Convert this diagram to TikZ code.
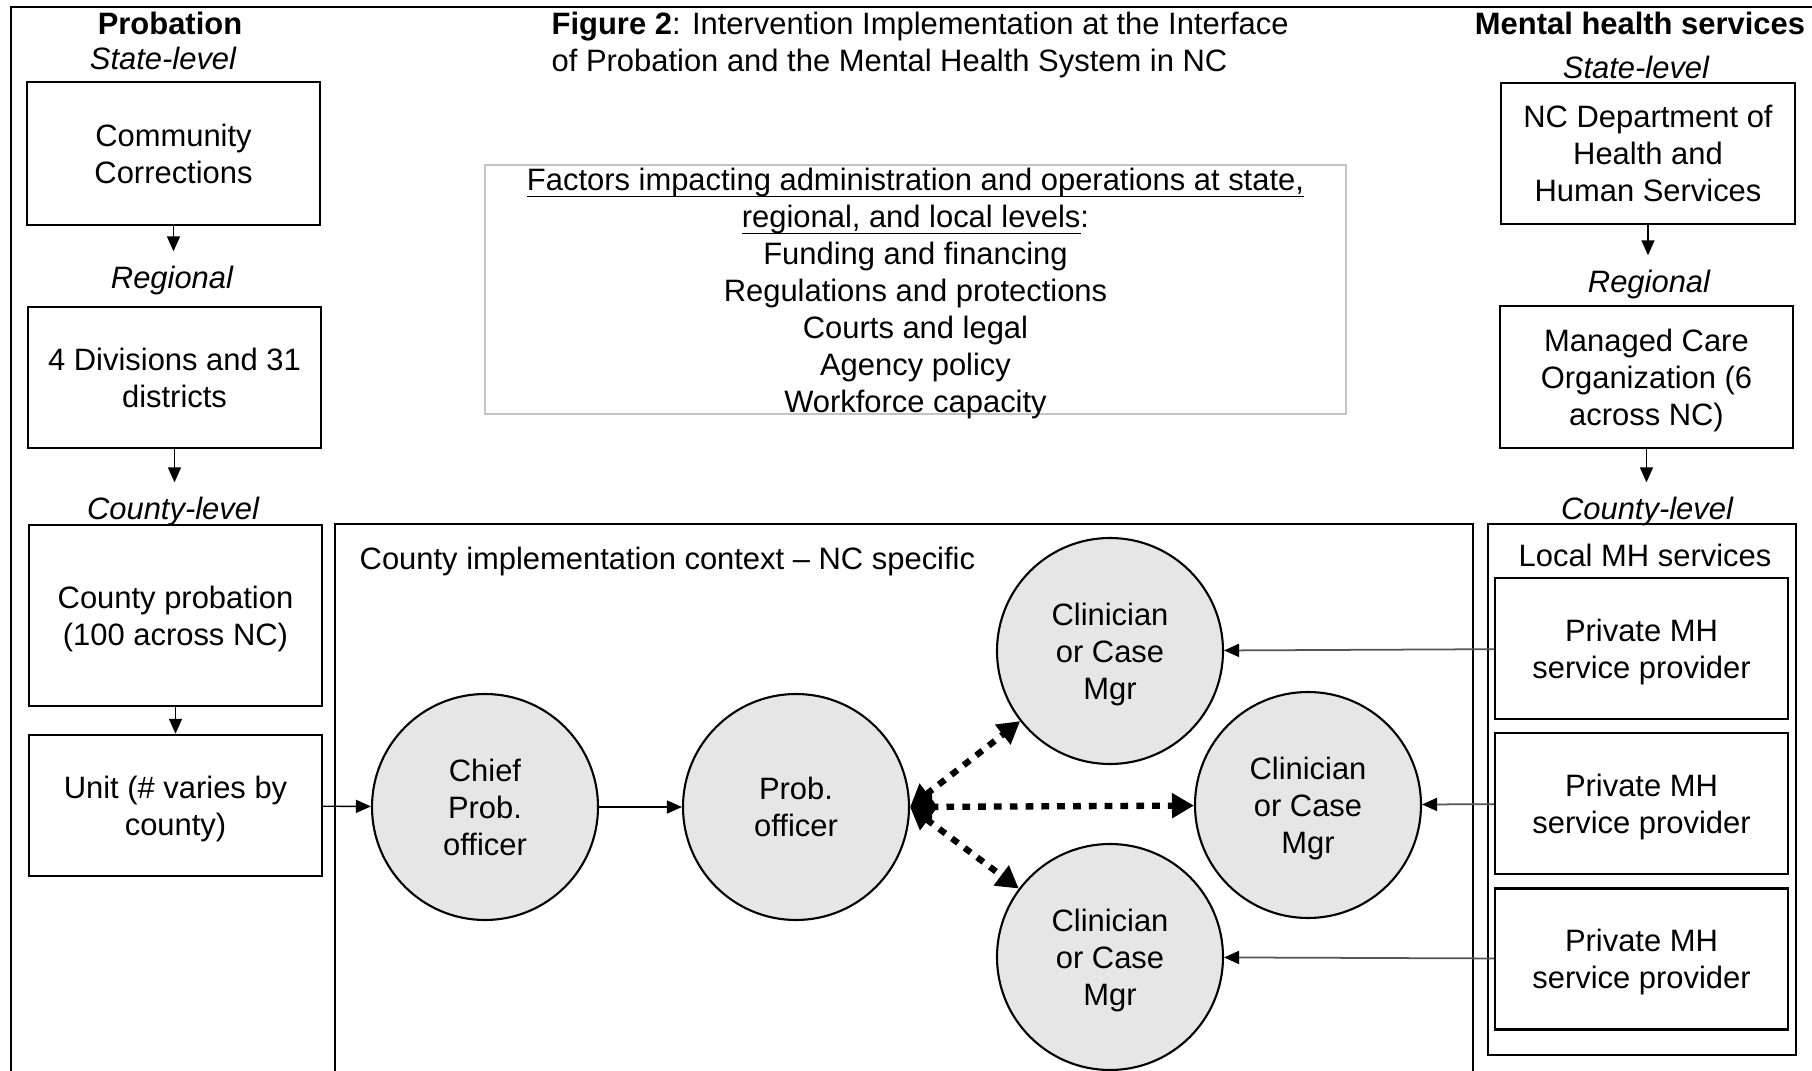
\documentclass[tikz,border=0pt]{standalone}
\usepackage{fontspec}
\setmainfont{Liberation Sans}
\definecolor{CircleGray}{HTML}{E6E6E6}
\definecolor{FactorGray}{HTML}{C4C4C4}
\definecolor{LinkGray}{HTML}{555555}
\usetikzlibrary{shapes.geometric, arrows.meta, positioning}
\newcommand{\figfont}{\fontsize{8.8pt}{10.55pt}\selectfont}
\newcommand{\underrule}[1]{\setbox0\hbox{#1}\rlap{\rule[-2pt]{\wd0}{0.5pt}}\box0}
\tikzset{
    % Boxes with sharp corners
    level box/.style={
        rectangle,
        draw=black,
        fill=white,
        line width=0.7pt,
        minimum width=2.93cm,
        minimum height=1.41cm,
        align=center,
        inner sep=2pt,
        text depth=0pt
    },
    level label/.style={
        inner sep=0pt,
        font=\figfont\itshape
    },
    side title/.style={
        inner sep=0pt,
        font=\figfont\bfseries
    },
    container/.style={
        rectangle,
        draw=black,
        line width=0.7pt,
        anchor=north west,
        inner sep=0pt
    },
    actor/.style={
        circle,
        draw=black,
        fill=CircleGray,
        line width=0.6pt,
        minimum size=2.26cm,
        align=center,
        inner sep=0pt,
        text depth=0pt
    },
    factor box/.style={
        rectangle,
        draw=FactorGray,
        line width=0.4pt,
        minimum width=8.61cm,
        minimum height=2.49cm
    },
    factor text/.style={
        align=center,
        inner sep=0pt
    },
    arrow style/.style={
        -{Triangle[length=0.15cm, width=0.13cm]},
        line width=0.4pt,
        black
    },
    level arrow/.style={
        arrow style,
        shorten >=4pt
    },
    provider arrow/.style={
        -{Triangle[length=0.15cm, width=0.13cm, color=black]},
        line width=0.5pt,
        LinkGray
    },
    link arrow/.style={
        {Triangle[length=0.22cm, width=0.24cm]}-{Triangle[length=0.22cm, width=0.24cm]},
        line width=1.8pt,
        dash pattern=on 2.2pt off 2.3pt
    }
}

\begin{document}
\begin{tikzpicture}[font=\figfont]
        \useasboundingbox (0,0) rectangle (18.12,-10.71);
        \clip (0,0) rectangle (18.12,-10.71);

        % Outer frame
        \draw[line width=0.7pt] (0.11,-11.5) |- (18.6,-0.07);

        % Title
        \node[anchor=west, align=left, inner sep=0pt] (title) at (5.51,-0.45) {
            \textbf{Figure 2}: Intervention Implementation at the Interface\\
            of Probation and the Mental Health System in NC};

        % Probation column
        \node[side title] (probtitle) at (1.70,-0.23) {Probation};
        \node[level label] (stateL) at (1.63,-0.58) {State-level};
        \node[level box, minimum height=1.43cm] (comcorr) at (1.735,-1.535) {Community\\Corrections};
        \node[level label] (regL) at (1.72,-2.805) {Regional};
        \node[level box] (divisions) at (1.745,-3.775) {4 Divisions and 31\\districts};
        \node[level label] (countyL) at (1.73,-5.115) {County-level};
        \node[level box, minimum height=1.81cm] (countyprob) at (1.755,-6.155) {County probation\\(100 across NC)};
        \node[level box] (unit) at (1.755,-8.055) {Unit (\# varies by\\county)};

        \draw[level arrow] (comcorr.south) -- (comcorr.south |- regL.north);
        \draw[level arrow] (divisions.south) -- (divisions.south |- countyL.north);
        \draw[arrow style] (countyprob.south) -- (unit.north);

        % Mental health column
        \node[side title] (mhtitle) at (16.40,-0.23) {Mental health services};
        \node[level label] (stateR) at (16.36,-0.67) {State-level};
        \node[level box, minimum width=2.94cm] (dhhs) at (16.48,-1.535) {NC Department of\\Health and\\Human Services};
        \node[level label] (regR) at (16.49,-2.845) {Regional};
        \node[level box, minimum height=1.42cm] (mco) at (16.465,-3.77) {Managed Care\\Organization (6\\across NC)};
        \node[level label] (countyR) at (16.47,-5.115) {County-level};

        \draw[level arrow] (dhhs.south) -- (dhhs.south |- regR.north);
        \draw[level arrow] (mco.south) -- (mco.south |- countyR.north);

        % Local MH services
        \node[container, minimum width=3.08cm, minimum height=5.31cm] (localmh) at (14.87,-5.23) {};
        \node[inner sep=0pt] (localL) at (16.45,-5.55) {Local MH services};
        \node[level box] (provA) at (16.415,-6.485) {Private MH\\service provider};
        \node[level box] (provB) at (16.415,-8.035) {Private MH\\service provider};
        \node[level box] (provC) at (16.415,-9.59) {Private MH\\service provider};

        % Factors
        \node[factor box] (factors) at (9.155,-2.895) {};
        \node[factor text] (factorlist) at (9.155,-2.935) {
            \underrule{Factors impacting administration and operations at state,}\\
            \underrule{regional, and local levels}:\\
            Funding and financing\\
            Regulations and protections\\
            Courts and legal\\
            Agency policy\\
            Workforce capacity};

        % County context
        \node[container, minimum width=11.38cm, minimum height=6.2cm] (context) at (3.34,-5.23) {};
        \node[anchor=west, inner sep=0pt] (contextL) at (3.59,-5.615) {County implementation context -- NC specific};

        \node[actor] (chief) at (4.85,-8.07) {Chief\\Prob.\\officer};
        \node[actor] (officer) at (7.96,-8.07) {Prob.\\officer};
        \node[actor] (clinA) at (11.10,-6.51) {Clinician\\or Case\\Mgr};
        \node[actor] (clinB) at (13.08,-8.05) {Clinician\\or Case\\Mgr};
        \node[actor] (clinC) at (11.10,-9.57) {Clinician\\or Case\\Mgr};

        \draw[arrow style] (unit) -- (chief);
        \draw[arrow style] (chief) -- (officer);
        \draw[link arrow] (officer.east) -- (clinA);
        \draw[link arrow] (officer.east) -- (clinB);
        \draw[link arrow] (officer.east) -- (clinC);

        \draw[provider arrow] (provA) -- (clinA);
        \draw[provider arrow] (provB) -- (clinB);
        \draw[provider arrow] (provC) -- (clinC);
    \end{tikzpicture}
\end{document}
